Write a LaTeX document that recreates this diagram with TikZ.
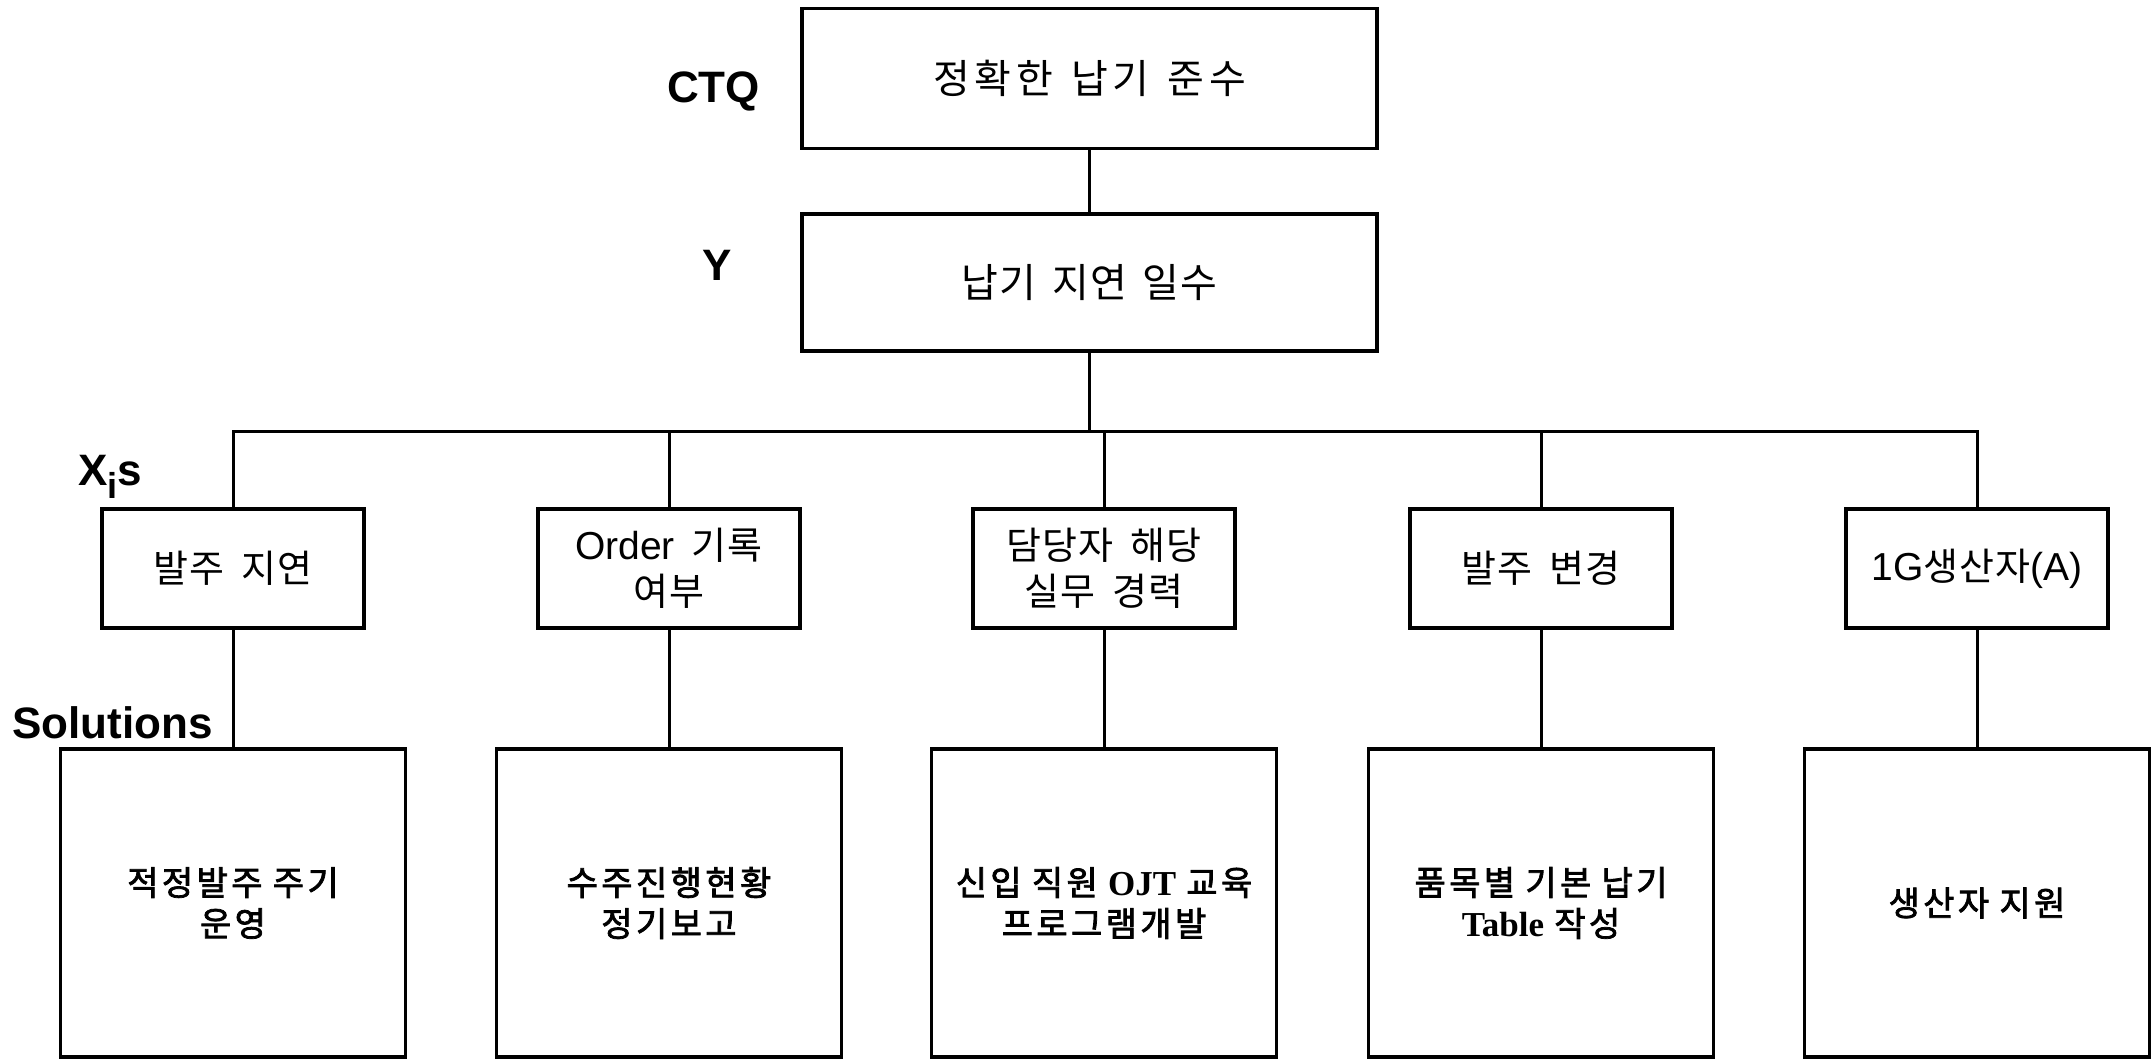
\documentclass[tikz,border=0pt]{standalone}
\usepackage{fontspec}
\setmainfont{Liberation Sans}
\newfontfamily\kr{Noto Sans CJK KR}
\newfontfamily\krsemi[FakeBold=2.2]{Noto Sans CJK KR}
\newfontfamily\ar{Liberation Sans}
\newfontfamily\tm{Liberation Serif}
\newcommand\widespace[1]{\spaceskip=#1em\relax}

\begin{document}
\begin{tikzpicture}[x=1pt,y=-1pt,
  frame/.style={draw, line width=3.4pt, inner sep=0pt, align=center},
  topbox/.style={frame, minimum width=575pt, minimum height=140pt},
  xbox/.style={frame, minimum width=262pt, minimum height=119pt,
    font=\kr\fontsize{38}{46}\selectfont\addfontfeature{LetterSpace=3},
    execute at begin node=\widespace{0.45}},
  solbox/.style={frame, minimum width=345pt, minimum height=308pt,
    font=\krsemi\fontsize{34}{41}\selectfont\addfontfeature{LetterSpace=10},
    execute at begin node=\widespace{0.3}},
  level/.style={font=\ar\bfseries\fontsize{44}{50}\selectfont, inner sep=0pt, anchor=base west},
  link/.style={line width=3pt}
]
\useasboundingbox (0,0) rectangle (2151,1060);

% CTQ and Y
\node[topbox, font=\kr\fontsize{40}{46}\selectfont\addfontfeature{LetterSpace=12},
  execute at begin node=\widespace{0.45}]
  (ctq) at (1089.5,78.5) {정확한 납기 준수};
\node[topbox, minimum height=137pt, font=\kr\fontsize{40}{46}\selectfont\addfontfeature{LetterSpace=3},
  execute at begin node=\widespace{0.4}]
  (y) at (1089.5,282.5) {납기 지연 일수};

% level labels
\node[level] (lctq) at (667,102) {CTQ};
\node[level] (ly) at (702,280) {Y};
\node[level] (lx) at (78,485) {X\raisebox{-0.3em}{\fontsize{36}{36}\selectfont i}s};
\node[level] (lsol) at (12,738) {Solutions};

% causes
\node[xbox] (x1) at (233,568.5) {발주 지연};
\node[xbox] (x2) at (669,568.5) {{\ar\fontsize{39}{46}\selectfont Order} 기록\\여부};
\node[xbox] (x3) at (1104,568.5) {담당자 해당\\실무 경력};
\node[xbox] (x4) at (1541,568.5) {발주 변경};
\node[xbox] (x5) at (1977,568.5) {{\ar\fontsize{39}{46}\selectfont 1G}생산자{\ar\fontsize{39}{46}\selectfont (A)}};

% solutions
\node[solbox] (s1) at (233,903) {적정발주 주기\\운영};
\node[solbox] (s2) at (669,903) {수주진행현황\\정기보고};
\node[solbox] (s3) at (1104,903) {신입 직원 {\tm\bfseries\fontsize{35}{41}\selectfont OJT} 교육\\프로그램개발};
\node[solbox] (s4) at (1541,903) {품목별 기본 납기\\{\tm\bfseries\fontsize{35}{41}\selectfont Table} 작성};
\node[solbox] (s5) at (1977,903) {생산자 지원};

% tree connectors
\coordinate (bus) at (0,431);
\draw[link] (ctq.south) -- (y.north);
\draw[link] (y.south) -- (y.south |- bus);
\draw[link] (x1.north) -- (x1.north |- bus) -- (x5.north |- bus) -- (x5.north);
\foreach \i in {2,3,4} \draw[link] (x\i.north) -- (x\i.north |- bus);
\foreach \i in {1,...,5} \draw[link] (x\i.south) -- (s\i.north);
\end{tikzpicture}
\end{document}
